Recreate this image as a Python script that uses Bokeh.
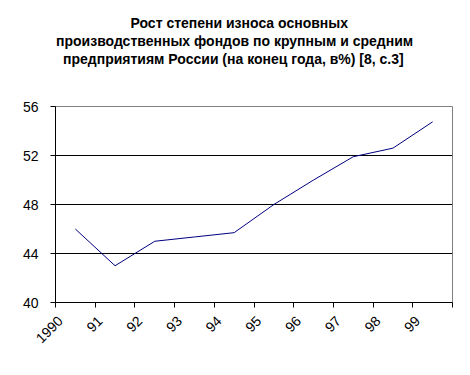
import math
from bokeh.plotting import figure
from bokeh.models import Range1d, FixedTicker, Title
from bokeh.embed import file_html
from bokeh.resources import INLINE

years = ["1990", "91", "92", "93", "94", "95", "96", "97", "98", "99"]
wear = [46.0, 43.0, 45.0, 45.35, 45.7, 48.0, 50.0, 51.9, 52.6, 54.75]
y_ticks = [40, 44, 48, 52, 56]
title_lines = [
    "Рост степени износа основных",
    "производственных фондов по крупным и средним",
    "предприятиям России (на конец года, в%) [8, с.3]",
]

n = len(years)
xpos = [i + 0.5 for i in range(n)]
label_pos = [i + 0.12 for i in range(n)]
bounds = list(range(n + 1))

W, H = 470, 375
LEFT, RIGHT, BOTTOM = 55, 18, 73

p = figure(width=W, height=H,
           x_range=Range1d(0, n), y_range=Range1d(y_ticks[0], y_ticks[-1]),
           output_backend="svg", toolbar_location=None,
           min_border_left=LEFT, min_border_right=RIGHT, min_border_bottom=BOTTOM,
           min_border_top=0)
p.background_fill_color = "white"
p.border_fill_color = "white"
p.outline_line_color = "#808080"

FONT = "Liberation Sans"
TS = 14
# spacer between the title block and the plot area
p.add_layout(Title(text=" ", text_font_size="1px", standoff=37), "above")
est_width = [210, 359, 345]
for line, w in reversed(list(zip(title_lines, est_width))):
    t = Title(text=line, align="left", offset=W / 2 - LEFT - w / 2,
              text_font=FONT, text_font_style="bold", text_font_size=f"{TS}px",
              text_line_height=1.0, text_color="black", standoff=0)
    p.add_layout(t, "above")
# top margin above the title
p.add_layout(Title(text=" ", text_font_size="1px", standoff=9), "above")

p.line(xpos, wear, line_color="#000080", line_width=1)

p.xgrid.visible = False
p.ygrid.ticker = FixedTicker(ticks=y_ticks[1:-1])
p.ygrid.grid_line_color = "black"
p.ygrid.grid_line_alpha = 1.0

ya = p.yaxis[0]
ya.ticker = FixedTicker(ticks=y_ticks, minor_ticks=[])
ya.axis_line_color = "black"
ya.major_tick_line_color = "black"
ya.major_tick_out = 5
ya.major_tick_in = 0
ya.minor_tick_line_color = None
ya.major_label_text_font = FONT
ya.major_label_text_font_size = "14px"
ya.major_label_text_color = "black"
ya.major_label_standoff = 12

xa = p.xaxis[0]
xa.ticker = FixedTicker(ticks=label_pos, minor_ticks=bounds)
xa.major_label_overrides = {x: lab for x, lab in zip(label_pos, years)}
xa.axis_line_color = "black"
xa.major_tick_line_color = None
xa.minor_tick_line_color = "black"
xa.minor_tick_out = 5
xa.minor_tick_in = 0
xa.major_label_orientation = math.pi / 4
xa.major_label_text_font = FONT
xa.major_label_text_font_size = "14px"
xa.major_label_text_color = "black"
xa.major_label_standoff = 10

open("out.html", "w").write(file_html(p, INLINE))
